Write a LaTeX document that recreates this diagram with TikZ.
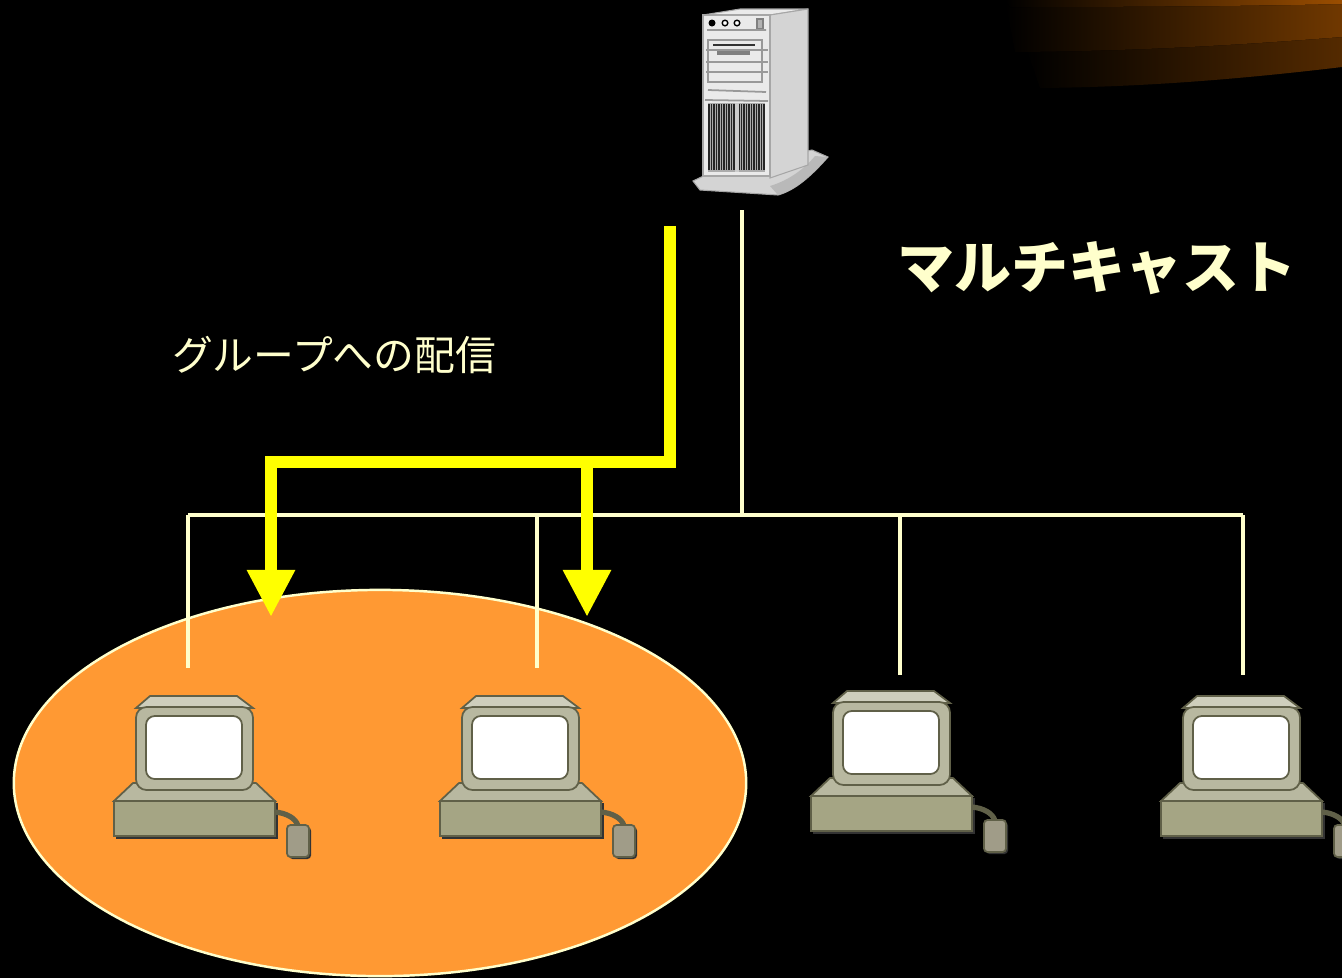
\documentclass[tikz,border=0pt]{standalone}
\usepackage{fontspec}
\newfontfamily\jpfont{Noto Sans CJK JP}
\definecolor{linecream}{RGB}{255,255,204}
\definecolor{groupyellow}{RGB}{255,255,0}
\definecolor{grouporange}{RGB}{255,153,51}
\definecolor{pcbody}{RGB}{184,184,160}
\definecolor{pclight}{RGB}{206,206,188}
\definecolor{pcbase}{RGB}{165,165,132}
\definecolor{pcedge}{RGB}{96,96,72}
\definecolor{pcmouse}{RGB}{160,156,136}
\definecolor{swooshbrown}{RGB}{112,56,0}
\definecolor{towerface}{RGB}{234,234,234}
\definecolor{towerside}{RGB}{212,212,212}
\usetikzlibrary{arrows.meta,positioning,calc}

\tikzset{
  pics/desktop/.style={code={
    % base bevel and box
    \filldraw[fill=pcbody,draw=pcedge,line width=0.5pt] (19,-18) -- (142,-18) -- (161,0) -- (0,0) -- cycle;
    \fill[black!80] (2,2) rectangle (164,38);
    \filldraw[fill=pcbase,draw=pcedge,line width=0.5pt] (0,0) rectangle (161,35);
    % cable and mouse
    \draw[pcedge,line width=1.5pt] (161,11) .. controls (172,12) and (182,17) .. (184,25);
    \fill[black!80,rounded corners=1pt] (175,26) rectangle (197,58);
    \filldraw[fill=pcmouse,draw=pcedge,line width=0.5pt,rounded corners=1pt] (173,24) rectangle (195,56);
    % monitor
    \filldraw[fill=pclight,draw=pcedge,line width=0.5pt] (36,-105) -- (123,-105) -- (139,-93) -- (22,-93) -- cycle;
    \filldraw[fill=pcbody,draw=pcedge,line width=0.5pt,rounded corners=3pt] (22,-94) rectangle (139,-11);
    \filldraw[fill=white,draw=pcedge,line width=0.5pt,rounded corners=2.5pt] (32,-85) rectangle (128,-22);
  }}
}

\begin{document}
\begin{tikzpicture}[x=0.01cm, y=-0.01cm,
    busline/.style={linecream, line width=1.4pt},
    groupline/.style={groupyellow, line width=3.4pt},
    grouparrow/.style={groupline, -{Triangle[width=4.5mm,length=4.7mm]}},
    titletext/.style={text=linecream, font=\jpfont\bfseries\fontsize{16.2pt}{19pt}\selectfont},
    labeltext/.style={text=linecream, font=\jpfont\fontsize{11.6pt}{14pt}\selectfont}]

    % Background
    \clip (0,0) rectangle (1342,978);
    \fill[black] (0,0) rectangle (1342,978);

    % Swoosh in the corner
    \fill[left color=black, right color=swooshbrown!75!black]
        (1025,45) -- (1342,25) -- (1342,67) .. controls (1250,78) and (1150,87) .. (1040,88) -- cycle;
    \fill[left color=black, right color=swooshbrown]
        (1005,0) -- (1342,0) -- (1342,37) .. controls (1250,44) and (1150,51) .. (1015,52) -- cycle;
    \fill[left color=black, right color=swooshbrown!70!orange]
        (1005,0) -- (1342,0) -- (1342,4) .. controls (1250,6) and (1150,7) .. (1010,7) -- cycle;

    % Group
    \draw[fill=grouporange, draw=linecream, line width=0.7pt] (380,783) ellipse [x radius=3.66cm, y radius=1.93cm];

    % Server tower
    \filldraw[fill=towerside, draw=gray!70, line width=0.3pt]
        (693,181) -- (712,172) -- (812,150) -- (828,157) .. controls (812,175) and (796,190) .. (778,195) -- (700,190) -- cycle;
    \fill[gray!55] (828,157) .. controls (812,175) and (796,190) .. (778,195) -- (770,186) .. controls (790,180) and (805,168) .. (815,156) -- cycle;
    \filldraw[fill=towerface, draw=gray!70, line width=0.3pt] (703,15) -- (740,9) -- (808,9) -- (770,15) -- cycle;
    \filldraw[fill=towerside, draw=gray!70, line width=0.3pt] (770,15) -- (808,9) -- (808,165) -- (770,178) -- cycle;
    \filldraw[fill=towerface, draw=gray!70, line width=0.3pt] (703,15) rectangle (770,176);
    \fill[black] (712,23) circle (3.5);
    \draw[black, fill=white, line width=0.4pt] (725,23) circle (2.8) (737,23) circle (2.8);
    \filldraw[fill=gray!60, draw=gray, line width=0.3pt] (757,19) rectangle (763,29);
    \draw[gray!80, line width=0.5pt] (707,30) -- (766,30) (708,90) -- (766,92) (705,100) -- (768,101);
    \draw[gray!80, line width=0.5pt] (708,40) rectangle (762,82) (706,50) -- (768,50) (706,62) -- (768,62) (706,72) -- (768,72);
    \draw[black!80, line width=0.5pt] (713,45) -- (755,45);
    \draw[gray, line width=1pt] (717,53) -- (750,53);
    \fill[gray!65] (708,103) rectangle (765,172);
    \foreach \vx in {709,711.5,...,764}
        \draw[black!85, line width=0.35pt] (\vx,104) -- (\vx,170);
    \draw[gray!40, line width=1.2pt] (737,103) -- (737,172);

    % Terminals
    \pic (pcA) at (114,801) {desktop};
    \pic (pcB) at (440,801) {desktop};
    \pic (pcC) at (811,796) {desktop};
    \pic (pcD) at (1161,801) {desktop};

    % Bus
    \coordinate (srvfoot) at (742,210);
    \coordinate (busjoin) at (742,515);
    \coordinate (busL) at (188,515);
    \coordinate (busR) at (1243,515);
    \draw[busline] (srvfoot) -- (busjoin);
    \draw[busline] (busL) -- (busR);
    \foreach \dx/\dy [count=\i] in {188/668, 537/668, 900/675, 1243/675} {
        \coordinate (tap\i) at (\dx,515);
        \coordinate (drop\i) at (\dx,\dy);
        \draw[busline] (tap\i) -- (drop\i);
    }

    % Multicast route
    \coordinate (ysrc) at (670,226);
    \coordinate (yturn) at (670,462);
    \coordinate (yleft) at (271,462);
    \coordinate (ysplit) at (587,462);
    \coordinate (tipA) at (271,617);
    \coordinate (tipB) at (587,617);
    \draw[grouparrow] (ysrc) -- (yturn) -- (yleft) -- (tipA);
    \draw[grouparrow] (ysplit) -- (tipB);

    % Labels
    \node[titletext] (title) at (1097,268) {マルチキャスト};
    \node[labeltext] (grouplabel) at (334,355) {グループへの配信};
\end{tikzpicture}
\end{document}
